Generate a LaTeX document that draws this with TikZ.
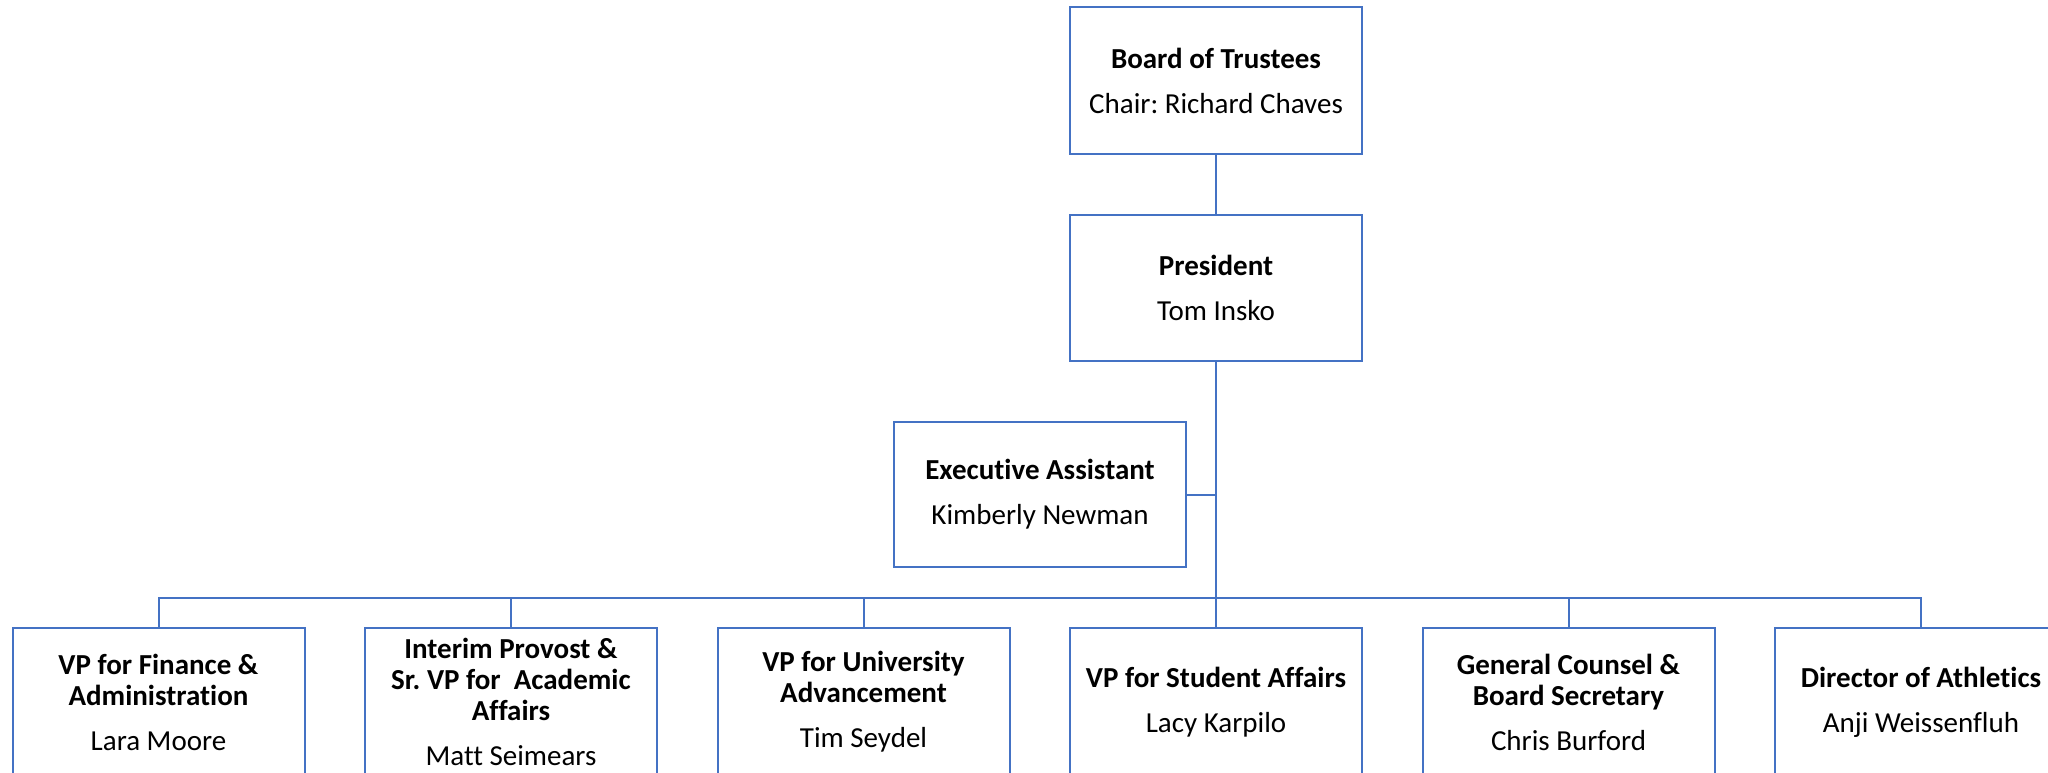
\documentclass[tikz,border=0pt]{standalone}
\usepackage{fontspec}
\setmainfont[Ligatures=NoCommon]{Carlito}
\definecolor{orgblue}{HTML}{4472C4}
\frenchspacing
\begin{document}
\begin{tikzpicture}[x=1pt,y=-1pt,
  orgbox/.style={draw=orgblue, line width=2pt, fill=white, inner sep=0pt, outer sep=0pt,
    minimum width=292pt, minimum height=147pt, align=center,
    font=\fontsize{29}{31}\selectfont, text=black},
  link/.style={draw=orgblue, line width=2pt}]
\useasboundingbox (0,0) rectangle (2048,772);
\clip (0,0) rectangle (2048,772);
\fill[white] (0,0) rectangle (2048,772);

\node[orgbox] (board) at (1216,80.5) {\textbf{Board of Trustees}\\[14pt]Chair: Richard Chaves};
\node[orgbox, minimum height=146pt] (pres) at (1216,288) {\textbf{President}\\[14pt]Tom Insko};
\node[orgbox, minimum height=145pt] (exec) at (1040,494.5) {\textbf{Executive Assistant}\\[14pt]Kimberly Newman};

\node[orgbox, minimum height=148pt] (fin) at (158.5,702) {\textbf{VP for Finance \&}\\\textbf{Administration}\\[14pt]Lara Moore};
\node[orgbox, minimum height=148pt] (prov) at (511,702) {\textbf{Interim Provost \&}\\\textbf{Sr. VP for~ Academic}\\\textbf{Affairs}\\[14pt]Matt Seimears};
\node[orgbox, minimum height=148pt] (adv) at (863.5,702) {\textbf{VP for University}\\\textbf{Advancement}\\[14pt]Tim Seydel};
\node[orgbox, minimum height=148pt] (stu) at (1216,702) {\textbf{VP for Student Affairs}\\[14pt]Lacy Karpilo};
\node[orgbox, minimum height=148pt] (gc) at (1568.5,702) {\textbf{General Counsel \&}\\\textbf{Board Secretary}\\[14pt]Chris Burford};
\node[orgbox, minimum height=148pt] (ath) at (1921,702) {\textbf{Director of Athletics}\\[14pt]Anji Weissenfluh};

\coordinate (bus) at (1216,598);

\draw[link] (board.south) -- (pres.north);
\draw[link] (pres.south) -- (bus);
\draw[link] (exec.east) -- (exec.east -| pres.south);
\foreach \n in {fin,prov,adv,stu,gc,ath}
  \draw[link] (bus) -| (\n.north);
\end{tikzpicture}
\end{document}
